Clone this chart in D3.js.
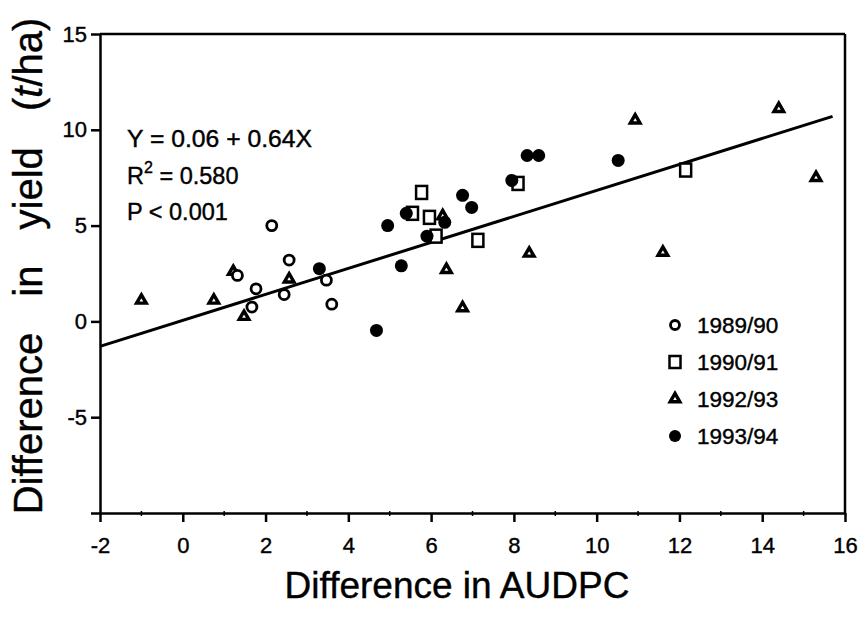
<!DOCTYPE html>
<html>
<head>
<meta charset="utf-8">
<script src="https://cdn.jsdelivr.net/npm/d3@7"></script>
<style>
  html, body { margin: 0; padding: 0; background: #fff; }
  svg { display: block; font-family: "Liberation Sans", Arial, Helvetica, sans-serif; }
</style>
</head>
<body>
<svg id="chart" width="866" height="620"></svg>
<script>
// ---------- data ----------
const seriesNames = ["1989/90", "1990/91", "1992/93", "1993/94"];
const s1989 = [[2.15,5.0],[1.77,1.7],[1.67,0.75],[2.57,3.2],[2.45,1.4],[3.47,2.15],[3.6,0.9],[1.32,2.4]];
const s1990 = [[5.77,6.73],[5.55,5.64],[5.96,5.43],[6.12,4.45],[7.13,4.23],[8.1,7.2],[12.15,7.9]];
const s1992 = [[-1.0,1.1],[0.75,1.1],[1.22,2.6],[1.48,0.25],[2.57,2.2],[6.28,5.5],[6.37,2.7],[6.76,0.7],[8.37,3.55],[10.93,10.5],[11.6,3.6],[14.4,11.1],[15.3,7.5]];
const s1993 = [[3.3,2.75],[4.68,-0.47],[4.95,5.0],[5.4,5.64],[5.28,2.9],[5.9,4.45],[6.33,5.17],[6.76,6.58],[6.98,5.95],[7.95,7.36],[8.32,8.66],[8.6,8.66],[10.52,8.4]];
const fitLine = [[-2,-1.3],[15.7,10.7]];
const xTicks = [-2,0,2,4,6,8,10,12,14,16];
const xTickLabels = ["-2","0","2","4","6","8","10","12","14","16"];
const yTicks = [-10,-5,0,5,10,15];
const yTickLabels = ["","-5","0","5","10","15"];
const annotation = ["Y = 0.06 + 0.64X", "R", "P < 0.001"];

// ---------- layout ----------
const svg = d3.select("#chart");
const x = d3.scaleLinear().domain([-2,16]).range([100,845]);
const y = d3.scaleLinear().domain([-10,15]).range([513,34]);
const textStroke = g => g.attr("stroke","#000").attr("stroke-width",0.4);

// frame (top and right)
svg.append("line").attr("x1",x(-2)).attr("x2",x(16)).attr("y1",y(15)).attr("y2",y(15))
  .attr("stroke","#000").attr("stroke-width",2.5);
svg.append("line").attr("x1",x(16)).attr("x2",x(16)).attr("y1",y(15)).attr("y2",y(-10))
  .attr("stroke","#000").attr("stroke-width",2.5);

// minor ticks
const xMinor = d3.range(-1,16,2);
svg.append("g").selectAll("line").data(xMinor).join("line")
  .attr("x1",d=>x(d)).attr("x2",d=>x(d)).attr("y1",y(-10)-2).attr("y2",y(-10)+3)
  .attr("stroke","#000").attr("stroke-width",1.5);

// x axis
const xAxis = svg.append("g").attr("transform",`translate(0,${y(-10)})`)
  .call(d3.axisBottom(x).tickValues(xTicks).tickFormat((d,i)=>xTickLabels[i]).tickSize(9).tickSizeOuter(0).tickPadding(15));
xAxis.select(".domain").attr("stroke-width",2.5);
xAxis.selectAll(".tick line").attr("stroke-width",2.5);
xAxis.selectAll(".tick text").attr("font-size",22).attr("font-family","Liberation Sans, Arial, sans-serif").attr("fill","#000").call(textStroke);

// y axis
const yAxis = svg.append("g").attr("transform",`translate(${x(-2)},0)`)
  .call(d3.axisLeft(y).tickValues(yTicks).tickFormat((d,i)=>yTickLabels[i]).tickSize(9).tickSizeOuter(0).tickPadding(4));
yAxis.select(".domain").attr("stroke-width",2.5);
yAxis.selectAll(".tick line").attr("stroke-width",2.5);
yAxis.selectAll(".tick text").attr("font-size",22).attr("font-family","Liberation Sans, Arial, sans-serif").attr("fill","#000").call(textStroke);

// regression line
svg.append("path").datum(fitLine)
  .attr("d", d3.line().x(d=>x(d[0])).y(d=>y(d[1])))
  .attr("stroke","#000").attr("stroke-width",3).attr("fill","none");

// markers
const triPath = d3.symbol().type(d3.symbolTriangle).size(40)();
function drawSeries(g, data, kind) {
  if (kind === 0) {
    g.selectAll("circle").data(data).join("circle")
      .attr("cx",d=>x(d[0])).attr("cy",d=>y(d[1])).attr("r",5)
      .attr("fill","#fff").attr("stroke","#000").attr("stroke-width",2.8);
  } else if (kind === 1) {
    g.selectAll("rect").data(data).join("rect")
      .attr("x",d=>x(d[0])-5.5).attr("y",d=>y(d[1])-6.5).attr("width",11).attr("height",13)
      .attr("fill","#fff").attr("stroke","#000").attr("stroke-width",2.5);
  } else if (kind === 2) {
    g.selectAll("path").data(data).join("path")
      .attr("d",triPath).attr("transform",d=>`translate(${x(d[0])},${y(d[1])})`)
      .attr("fill","#fff").attr("stroke","#000").attr("stroke-width",3.4).attr("stroke-linejoin","miter");
  } else {
    g.selectAll("circle").data(data).join("circle")
      .attr("cx",d=>x(d[0])).attr("cy",d=>y(d[1])).attr("r",6.5)
      .attr("fill","#000");
  }
}
drawSeries(svg.append("g"), s1990, 1);
drawSeries(svg.append("g"), s1992, 2);
drawSeries(svg.append("g"), s1993, 3);
drawSeries(svg.append("g"), s1989, 0);

// annotation
const ann = svg.append("g").attr("font-size",23.5).attr("fill","#000").call(textStroke);
ann.append("text").attr("x",127).attr("y",147).attr("textLength",185).attr("lengthAdjust","spacingAndGlyphs").text(annotation[0]);
const r2 = ann.append("text").attr("x",127).attr("y",184);
r2.append("tspan").text(annotation[1]);
r2.append("tspan").attr("dy",-11).attr("font-size",16).text("2");
r2.append("tspan").attr("dy",11).text(" = 0.580");
ann.append("text").attr("x",127).attr("y",220).text(annotation[2]);

// legend
const legY = [325,362,399,436];
seriesNames.forEach((name,i)=>{
  const lg = svg.append("g");
  const cx = 675, cy = legY[i];
  if (i===0) lg.append("circle").attr("cx",cx).attr("cy",cy).attr("r",4.5).attr("fill","#fff").attr("stroke","#000").attr("stroke-width",2.8);
  if (i===1) lg.append("rect").attr("x",cx-5.5).attr("y",cy-6).attr("width",11).attr("height",12).attr("fill","#fff").attr("stroke","#000").attr("stroke-width",2.5);
  if (i===2) lg.append("path").attr("d",triPath).attr("transform",`translate(${cx},${cy})`).attr("fill","#fff").attr("stroke","#000").attr("stroke-width",3.4);
  if (i===3) lg.append("circle").attr("cx",cx).attr("cy",cy).attr("r",6).attr("fill","#000");
  lg.append("text").attr("x",697).attr("y",cy+8).attr("font-size",22.5).attr("fill","#000").call(textStroke).text(name);
});

// axis titles
svg.append("text").attr("x",457).attr("y",598).attr("text-anchor","middle")
  .attr("font-size",37).attr("fill","#000").call(textStroke).text("Difference in AUDPC");
const yt = svg.append("text").attr("transform","translate(42,266) rotate(-90)")
  .attr("text-anchor","middle").attr("font-size",40).attr("fill","#000").call(textStroke).style("word-spacing","25px");
yt.append("tspan").text("Difference in yield (");
yt.append("tspan").attr("font-style","italic").text("t");
yt.append("tspan").text("/ha)");
</script>
</body>
</html>
